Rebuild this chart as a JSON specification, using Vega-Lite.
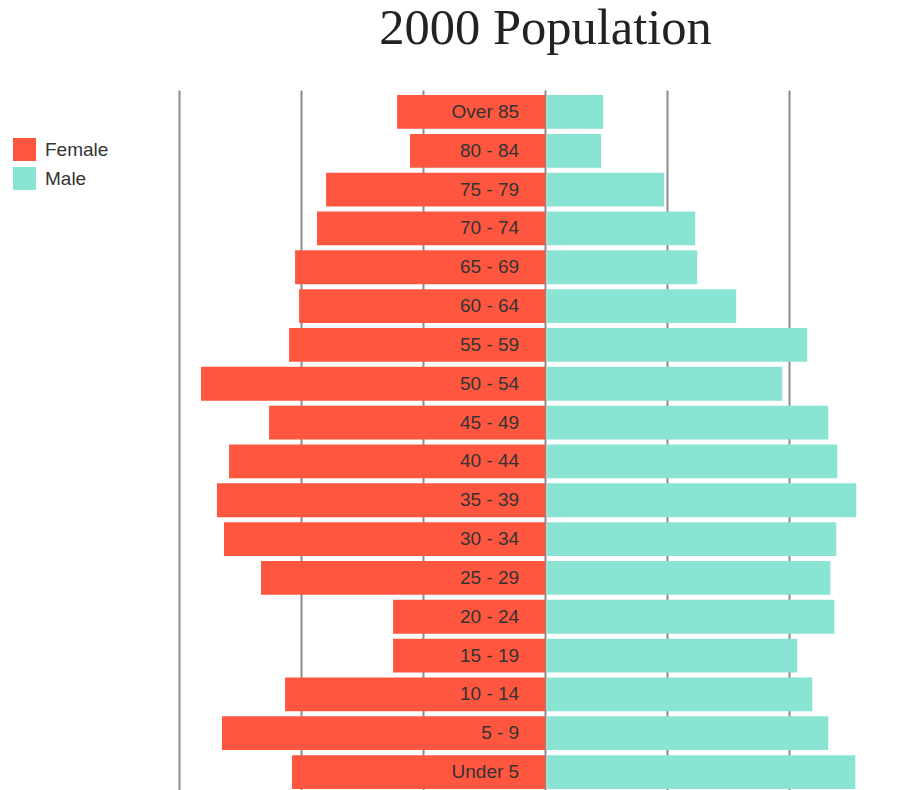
{
  "$schema": "https://vega.github.io/schema/vega-lite/v6.json",
  "width": 725,
  "height": 704,
  "autosize": {"type": "none"},
  "padding": {"left": 179, "top": 90, "right": 0, "bottom": -4},
  "background": "white",
  "view": {"stroke": null},
  "title": {"text": "2000 Population", "font": "Liberation Serif", "fontSize": 50.5, "fontWeight": "normal", "color": "#222222", "anchor": "middle", "frame": "group", "offset": 36, "dx": 4},
  "data": {"values": [
    {"age": "Over 85", "sex": "Female", "value": 1.213}, {"age": "Over 85", "sex": "Male", "value": 0.459},
    {"age": "80 - 84", "sex": "Female", "value": 1.107}, {"age": "80 - 84", "sex": "Male", "value": 0.443},
    {"age": "75 - 79", "sex": "Female", "value": 1.795}, {"age": "75 - 79", "sex": "Male", "value": 0.959},
    {"age": "70 - 74", "sex": "Female", "value": 1.869}, {"age": "70 - 74", "sex": "Male", "value": 1.213},
    {"age": "65 - 69", "sex": "Female", "value": 2.049}, {"age": "65 - 69", "sex": "Male", "value": 1.23},
    {"age": "60 - 64", "sex": "Female", "value": 2.016}, {"age": "60 - 64", "sex": "Male", "value": 1.549},
    {"age": "55 - 59", "sex": "Female", "value": 2.098}, {"age": "55 - 59", "sex": "Male", "value": 2.131},
    {"age": "50 - 54", "sex": "Female", "value": 2.82}, {"age": "50 - 54", "sex": "Male", "value": 1.926},
    {"age": "45 - 49", "sex": "Female", "value": 2.262}, {"age": "45 - 49", "sex": "Male", "value": 2.303},
    {"age": "40 - 44", "sex": "Female", "value": 2.59}, {"age": "40 - 44", "sex": "Male", "value": 2.377},
    {"age": "35 - 39", "sex": "Female", "value": 2.689}, {"age": "35 - 39", "sex": "Male", "value": 2.533},
    {"age": "30 - 34", "sex": "Female", "value": 2.631}, {"age": "30 - 34", "sex": "Male", "value": 2.369},
    {"age": "25 - 29", "sex": "Female", "value": 2.328}, {"age": "25 - 29", "sex": "Male", "value": 2.32},
    {"age": "20 - 24", "sex": "Female", "value": 1.246}, {"age": "20 - 24", "sex": "Male", "value": 2.352},
    {"age": "15 - 19", "sex": "Female", "value": 1.246}, {"age": "15 - 19", "sex": "Male", "value": 2.049},
    {"age": "10 - 14", "sex": "Female", "value": 2.131}, {"age": "10 - 14", "sex": "Male", "value": 2.172},
    {"age": "5 - 9", "sex": "Female", "value": 2.648}, {"age": "5 - 9", "sex": "Male", "value": 2.303},
    {"age": "Under 5", "sex": "Female", "value": 2.074}, {"age": "Under 5", "sex": "Male", "value": 2.525}
  ]},
  "encoding": {
    "y": {
      "field": "age", "type": "nominal",
      "sort": ["Over 85", "80 - 84", "75 - 79", "70 - 74", "65 - 69", "60 - 64", "55 - 59", "50 - 54", "45 - 49", "40 - 44", "35 - 39", "30 - 34", "25 - 29", "20 - 24", "15 - 19", "10 - 14", "5 - 9", "Under 5"],
      "axis": null,
      "scale": {"paddingInner": 0.13, "paddingOuter": 0.13}
    }
  },
  "layer": [
    {
      "transform": [{"filter": "datum.sex === 'Female'"}],
      "mark": {"type": "bar"},
      "encoding": {
        "x": {"field": "value", "type": "quantitative", "stack": null, "scale": {"domain": [-2.94, 3], "reverse": true, "nice": false, "zero": false}, "axis": null},
        "color": {
          "field": "sex", "type": "nominal",
          "scale": {"domain": ["Female", "Male"], "range": ["#ff5640", "#8ae4d4"]},
          "legend": {"orient": "none", "legendX": -166, "legendY": 48, "title": null, "symbolType": "square", "symbolSize": 529, "symbolStrokeWidth": 0, "symbolOpacity": 1, "labelFontSize": 19, "labelFont": "Liberation Sans", "labelColor": "#333333", "labelOffset": 9, "rowPadding": 6}
        }
      }
    },
    {
      "transform": [{"filter": "datum.sex === 'Male'"}],
      "mark": {"type": "bar", "xOffset": 2, "x2Offset": 2},
      "encoding": {
        "x": {"field": "value", "type": "quantitative", "stack": null, "scale": {"domain": [-3, 2.94], "nice": false, "zero": false},
          "axis": {"values": [-3, -2, -1, 0, 1, 2], "grid": true, "labels": false, "ticks": false, "domain": false, "title": null, "gridColor": "#8c8c8c", "gridWidth": 2, "gridOpacity": 1}},
        "x2": {"datum": 0},
        "color": {"field": "sex", "type": "nominal"}
      }
    },
    {
      "transform": [{"filter": "datum.sex === 'Female'"}],
      "mark": {"type": "text", "align": "right", "baseline": "middle", "dx": -26, "fontSize": 19, "font": "Liberation Sans", "color": "#333333"},
      "encoding": {
        "x": {"datum": 0, "type": "quantitative", "scale": {"domain": [-3, 2.94], "nice": false, "zero": false}, "axis": null},
        "text": {"field": "age"}
      }
    }
  ],
  "resolve": {"scale": {"x": "independent"}}
}
